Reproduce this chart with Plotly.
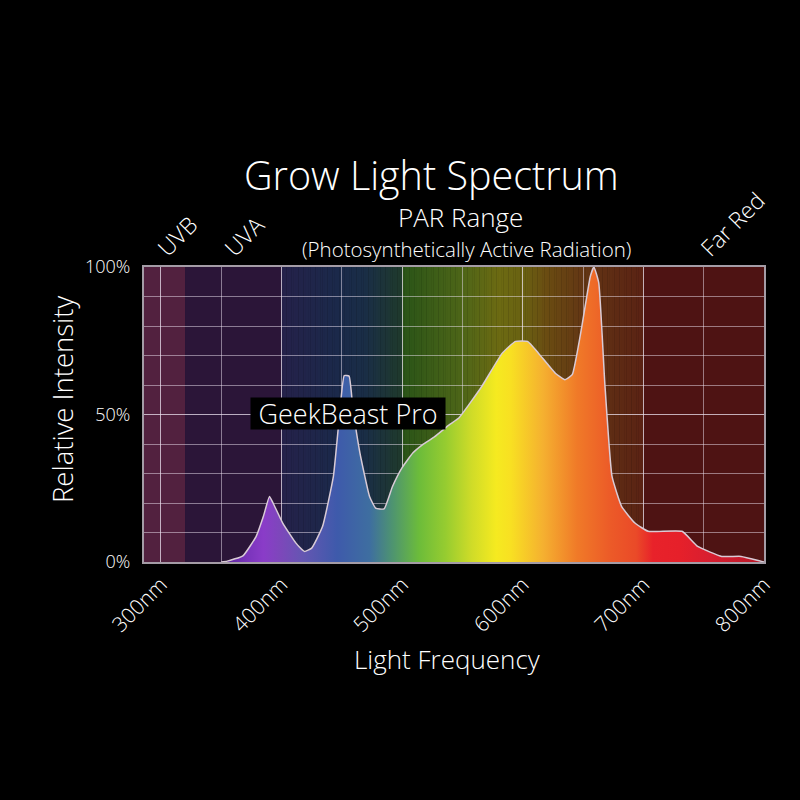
import plotly.graph_objects as go

# ---------------- data ----------------
WAVELENGTH_NM = [350, 355, 368, 379, 385, 390, 393, 401, 412, 419, 425, 434, 443, 448, 452,
                 456, 459, 465, 473, 478, 485, 492, 500, 509, 517, 527, 539, 547, 566, 583,
                 594, 604, 613, 627, 635, 641, 649, 656, 659, 663, 668, 674, 682, 693, 704,
                 732, 745, 765, 781, 798, 800]
INTENSITY_PCT = [0, 0.3, 2.1, 8.7, 15.5, 22.2, 20, 13.2, 6.4, 3.6, 4.7, 12, 29, 49.4, 63.2,
                 63, 52.8, 37, 22.2, 18.3, 18, 25.6, 32, 37, 39.8, 42.5, 46.5, 48.8, 59.5, 70.8,
                 74.8, 74.8, 70.8, 64, 61.8, 63.5, 79.9, 96.8, 100, 94.6, 60.7, 29, 18.8, 13.2, 10.4,
                 10.4, 5.3, 1.9, 1.9, 0.2, 0]

X_TICKS = [300, 400, 500, 600, 700, 800]
X_TICK_LABELS = ["300nm", "400nm", "500nm", "600nm", "700nm", "800nm"]
Y_TICKS = [0, 50, 100]
Y_TICK_LABELS = ["0%", "50%", "100%"]

BANDS = [  # (start nm, end nm, label)
    (280, 320, "UVB"),
    (320, 400, "UVA"),
    (400, 700, "PAR"),
    (700, 800, "Far Red"),
]
SERIES_NAME = "GeekBeast Pro"

# ---------------- style ----------------
FONT = "Open Sans"
X_MIN, X_MAX = 286, 800
ML, MR, MT, MB = 144, 36, 267, 238

FILL_STOPS = [
    (350, "#5a249a"), (372, "#7a34bc"), (385, "#8a3cc8"), (400, "#7c48ba"),
    (418, "#6456b2"), (446, "#3e5aab"), (473, "#3e6ea0"), (492, "#4e9470"),
    (514, "#6cbc3a"), (536, "#96cc30"), (558, "#d0dc28"), (578, "#f5ea20"),
    (590, "#f8e022"), (617, "#f5b030"), (645, "#f07a28"), (673, "#ec5a28"),
    (694, "#ea4a28"), (708, "#e8222a"), (730, "#e6202a"), (755, "#d81e30"),
    (800, "#b81828"),
]

BG_STOPS = [
    (400, "#25214a"), (450, "#1a2a4a"), (470, "#1a2e46"), (499, "#1f3a2c"),
    (500, "#2a5418"), (550, "#4e6618"), (580, "#6c6a12"), (600, "#6a6212"),
    (620, "#6a4c12"), (650, "#633614"), (690, "#5c2614"), (700, "#5a2214"),
]
UVB_BG = "#52213f"
UVA_BG = "#2b1538"
FARRED_BG = "#4e1313"
GRID = "rgba(235,225,240,0.5)"


def hex_to_rgb(h):
    h = h.lstrip("#")
    return tuple(int(h[i:i + 2], 16) for i in (0, 2, 4))


def interp_color(stops, x):
    for (x0, c0), (x1, c1) in zip(stops[:-1], stops[1:]):
        if x0 <= x <= x1:
            t = 0 if x1 == x0 else (x - x0) / (x1 - x0)
            a, b = hex_to_rgb(c0), hex_to_rgb(c1)
            r = [round(a[i] + (b[i] - a[i]) * t) for i in range(3)]
            return "rgb({},{},{})".format(*r)
    return stops[-1][1]


shapes = []
for (s, e, lab) in BANDS:
    if lab == "PAR":
        continue
    col = {"UVB": UVB_BG, "UVA": UVA_BG, "Far Red": FARRED_BG}[lab]
    shapes.append(dict(type="rect", xref="x", yref="y", x0=max(s, X_MIN), x1=e, y0=0, y1=100,
                       fillcolor=col, line_width=0, layer="below"))
par_s, par_e = BANDS[2][0], BANDS[2][1]
step = 2
w = par_s
while w < par_e:
    shapes.append(dict(type="rect", xref="x", yref="y", x0=w, x1=w + step + 0.3, y0=0, y1=100,
                       fillcolor=interp_color(BG_STOPS, w + step / 2), line_width=0, layer="below"))
    w += step

g_start, g_stop = FILL_STOPS[0][0], FILL_STOPS[-1][0]
colorscale = [[(nm - g_start) / (g_stop - g_start), c] for nm, c in FILL_STOPS]

fig = go.Figure()
fig.add_trace(go.Scatter(
    x=WAVELENGTH_NM, y=INTENSITY_PCT, mode="lines", name=SERIES_NAME,
    line=dict(color="#d9cbd6", width=1.5, shape="spline", smoothing=0.4),
    fill="tozeroy",
    fillgradient=dict(type="horizontal", colorscale=colorscale, start=g_start, stop=g_stop),
    hoverinfo="x+y",
))

fig.update_layout(
    width=800, height=800,
    paper_bgcolor="black", plot_bgcolor="black",
    margin=dict(l=ML, r=MR, t=MT, b=MB),
    showlegend=False,
    font=dict(family=FONT, color="white"),
    shapes=shapes,
)

PLOT_H = 800 - MT - MB
PLOT_W = 800 - ML - MR


def px_to_paper(px, py):
    return (px - ML) / PLOT_W, (800 - MB - py) / PLOT_H


ann = []
for text, (px, py), size, angle in [
    ("Grow Light Spectrum", (431, 175), 39.5, 0),
    ("PAR Range", (461, 217), 26, 0),
    ("(Photosynthetically Active Radiation)", (466, 248.5), 20.5, 0),
    ("UVB", (177, 236), 23, -45),
    ("UVA", (244, 236), 23, -45),
    ("Far Red", (732, 224), 23, -45),
    ("Light Frequency", (447, 659), 26, 0),
    ("Relative Intensity", (62, 400), 27.5, -90),
]:
    xp, yp = px_to_paper(px, py)
    ann.append(dict(text=text, x=xp, y=yp, xref="paper", yref="paper", showarrow=False,
                    xanchor="center", yanchor="middle", textangle=angle,
                    font=dict(size=size, color="white", family=FONT, weight=300)))
ann.append(dict(text=SERIES_NAME, x=455, y=50.3, xref="x", yref="y", showarrow=False,
                bgcolor="black", borderpad=2, width=190, height=27,
                font=dict(size=27, color="white", family=FONT, weight=300)))
fig.update_layout(annotations=ann)

fig.update_xaxes(
    range=[X_MIN, X_MAX], tickmode="array", tickvals=X_TICKS, ticktext=X_TICK_LABELS,
    tickangle=-45, tickfont=dict(size=21, color="white", family=FONT, weight=300),
    showgrid=True, gridcolor=GRID, gridwidth=1,
    minor=dict(dtick=50, tick0=300, showgrid=True, gridcolor=GRID, gridwidth=1),
    showline=True, linecolor="#a49ca6", linewidth=2, mirror=True,
    zeroline=False, ticks="", ticklabelstandoff=0,
)
fig.update_yaxes(
    range=[0, 100], tickmode="array", tickvals=Y_TICKS, ticktext=Y_TICK_LABELS,
    tickfont=dict(size=18, color="white", family=FONT, weight=300),
    showgrid=True, gridcolor=GRID, gridwidth=1,
    minor=dict(dtick=10, tick0=0, showgrid=True, gridcolor=GRID, gridwidth=1),
    showline=True, linecolor="#a49ca6", linewidth=2, mirror=True,
    zeroline=False, ticks="", ticklabelstandoff=8,
)

fig.write_html("out.html", config={"displayModeBar": False},
               post_script="document.body.style.margin='0';document.body.style.background='black';")
